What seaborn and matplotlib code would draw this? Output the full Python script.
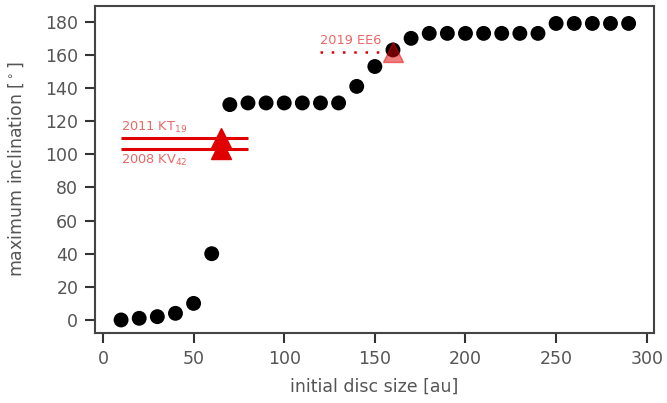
import matplotlib
matplotlib.use("Agg")
import matplotlib.pyplot as plt
import seaborn as sns
import pandas as pd

# simulated runs: disc size vs max inclination
disc_size = [10, 20, 30, 40, 50, 60, 70, 80, 90, 100, 110, 120, 130, 140, 150,
             160, 170, 180, 190, 200, 210, 220, 230, 240, 250, 260, 270, 280, 290]
max_incl = [0, 1, 2, 4, 10, 40, 130, 131, 131, 131, 131, 131, 131, 141, 153,
            163, 170, 173, 173, 173, 173, 173, 173, 173, 179, 179, 179, 179, 179]

# observed objects
obj_names = ["2011 KT$_{19}$", "2008 KV$_{42}$"]
obj_incl = [110, 103]
obj_x = 65
obj_range = (10, 80)

ee6_name = "2019 EE6"
ee6_incl = 162
ee6_x = 160
ee6_range = (120, 160)

df = pd.DataFrame({"size": disc_size, "incl": max_incl})

sns.set_style("ticks")
plt.rcParams["font.family"] = ["DejaVu Sans"]

fig, ax = plt.subplots(figsize=(6.67, 4.03), dpi=100)

sns.scatterplot(data=df, x="size", y="incl", ax=ax, color="black", s=115,
                edgecolor="none", zorder=3)

red = "#e00000"
for name, inc in zip(obj_names, obj_incl):
    ax.hlines(inc, obj_range[0], obj_range[1], color=red, lw=2.2, zorder=2)
    ax.plot(obj_x, inc, marker="^", color=red, ms=14, zorder=4, ls="none")
ax.text(obj_range[0], obj_incl[0] + 1.5, obj_names[0], color=red, alpha=0.6,
        fontsize=9.3, va="bottom")
ax.text(obj_range[0], obj_incl[1] - 2, obj_names[1], color=red, alpha=0.6,
        fontsize=9.3, va="top")

ax.hlines(ee6_incl, ee6_range[0], ee6_range[1], color=red, lw=1.8,
          linestyles=(0, (1, 3.5)), zorder=2)
ax.plot(ee6_x, ee6_incl, marker="^", color=red, alpha=0.5, ms=14, zorder=4,
        ls="none", markeredgecolor=red)
ax.text(ee6_range[0], ee6_incl + 3, ee6_name, color=red, alpha=0.6,
        fontsize=9.3, va="bottom")

ax.set_xlim(-4.4, 304)
ax.set_ylim(-7.8, 189.5)
ax.set_xticks(range(0, 301, 50))
ax.set_yticks(range(0, 181, 20))
ax.set_xlabel("initial disc size [au]", color="#555555", fontsize=12.5,
              labelpad=7)
ax.set_ylabel("maximum inclination [$^\\circ$]", color="#555555",
              fontsize=12.5, labelpad=14)
ax.tick_params(colors="#333333", labelcolor="#555555", labelsize=12.5,
               length=7, width=1.5, pad=5)
for sp in ax.spines.values():
    sp.set_color("#444444")
    sp.set_linewidth(1.5)

fig.subplots_adjust(left=0.1424, right=0.9805, top=0.985, bottom=0.174)
fig.savefig("out.png", dpi=100)
